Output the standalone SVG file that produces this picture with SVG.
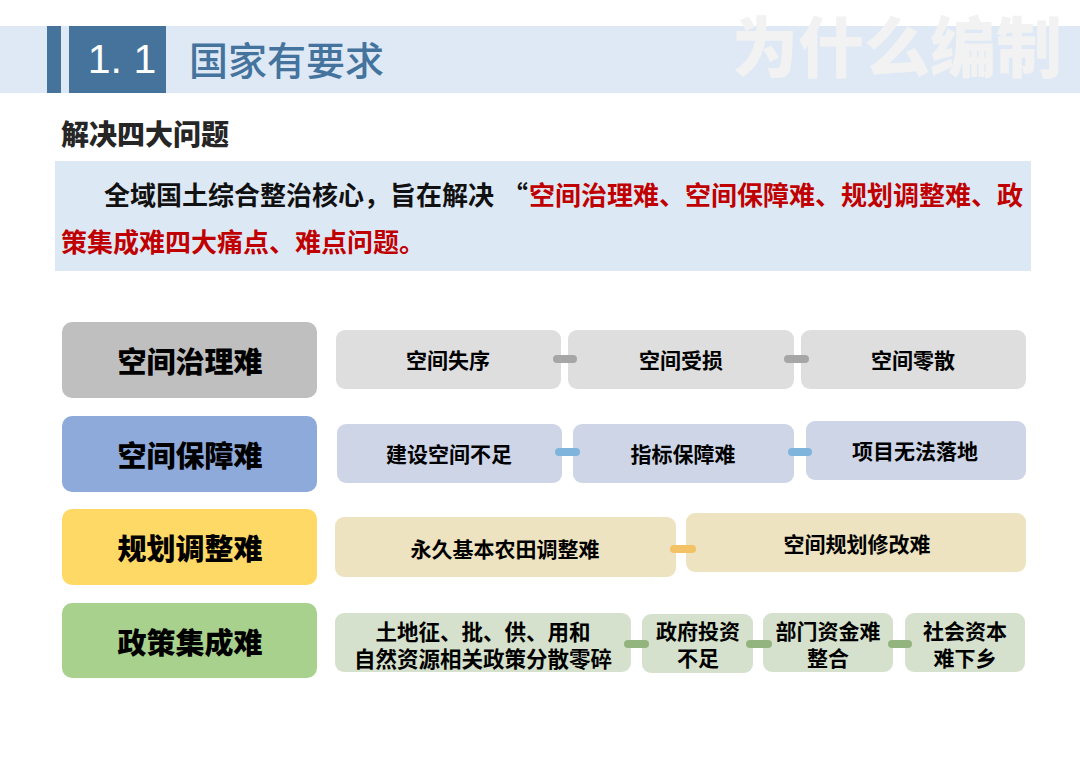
<svg xmlns="http://www.w3.org/2000/svg" width="1080" height="764" viewBox="0 0 1080 764">
<style>
text{font-family:"Noto Sans CJK SC","Liberation Sans",sans-serif;}
.b{font-weight:700;}
.cat{font-size:29px;font-weight:800;fill:#000;text-anchor:middle;dominant-baseline:central;}
.it{font-size:21px;font-weight:700;fill:#000;text-anchor:middle;dominant-baseline:central;}
.g1{fill:#dedede;}
.g2{fill:#cdd5e6;}
.g3{fill:#ede3c1;}
.g4{fill:#d5e1cc;}
.pill{stroke-width:8;stroke-linecap:round;fill:none;}
</style>
<rect width="1080" height="764" fill="#ffffff"/>
<g id="header">
<rect x="0" y="26" width="1080" height="67" fill="#dfe9f5"/>
<text x="897" y="43" font-size="66" font-weight="900" fill="#f2f2f2" text-anchor="middle" dominant-baseline="central">为什么编制</text>
<rect x="47" y="26" width="14" height="67" fill="#45739c"/>
<rect x="69" y="26" width="97" height="67" fill="#45739c"/>
<text x="122" y="73" font-size="41" fill="#ffffff" text-anchor="middle" style="font-family:'Liberation Sans',Arial,sans-serif">1. 1</text>
<text x="189" y="58" font-size="39" font-weight="500" fill="#44739e" dominant-baseline="central">国家有要求</text>
</g>
<g id="subtitle">
<text x="61" y="133" font-size="28" font-weight="800" fill="#262626" dominant-baseline="central">解决四大问题</text>
</g>
<g id="intro">
<rect x="55" y="161" width="976" height="110" fill="#dde8f5"/>
<text y="193" font-size="26" class="b" dominant-baseline="central"><tspan x="104" fill="#111111">全域国土综合整治核心，旨在解决</tspan><tspan x="502" fill="#111111">“</tspan><tspan x="529" fill="#c00000">空间治理难、空间保障难、规划调整难、政</tspan></text>
<text x="61" y="240" font-size="26" class="b" fill="#c00000" dominant-baseline="central">策集成难四大痛点、难点问题。</text>
</g>
<g id="cat1"><rect x="62" y="322" width="255" height="76" rx="10" fill="#bfbfbf"/><text class="cat" x="190" y="360">空间治理难</text></g>
<g id="cat2"><rect x="62" y="416" width="255" height="76" rx="10" fill="#8eaadb"/><text class="cat" x="190" y="454">空间保障难</text></g>
<g id="cat3"><rect x="62" y="509" width="255" height="76" rx="10" fill="#ffd966"/><text class="cat" x="190" y="547">规划调整难</text></g>
<g id="cat4"><rect x="62" y="603" width="255" height="75" rx="10" fill="#a9d18e"/><text class="cat" x="190" y="641">政策集成难</text></g>
<g id="r1a"><rect class="g1" x="336" y="330" width="225" height="59" rx="9"/><text class="it" x="448" y="359">空间失序</text></g>
<g id="r1b"><rect class="g1" x="568" y="330" width="226" height="59" rx="9"/><text class="it" x="681" y="359">空间受损</text></g>
<g id="r1c"><rect class="g1" x="801" y="330" width="225" height="59" rx="9"/><text class="it" x="913" y="359">空间零散</text></g>
<g id="r2a"><rect class="g2" x="337" y="424" width="225" height="59" rx="9"/><text class="it" x="449" y="453">建设空间不足</text></g>
<g id="r2b"><rect class="g2" x="573" y="424" width="221" height="59" rx="9"/><text class="it" x="683" y="453">指标保障难</text></g>
<g id="r2c"><rect class="g2" x="806" y="421" width="220" height="59" rx="9"/><text class="it" x="915" y="450">项目无法落地</text></g>
<g id="r3a"><rect class="g3" x="335" y="517" width="341" height="60" rx="9"/><text class="it" x="505" y="548">永久基本农田调整难</text></g>
<g id="r3b"><rect class="g3" x="686" y="513" width="340" height="59" rx="9"/><text class="it" x="857" y="543">空间规划修改难</text></g>
<g id="r4a"><rect class="g4" x="335" y="613" width="296" height="59" rx="9"/><text class="it" style="font-size:21.5px"><tspan x="483" y="630">土地征、批、供、用和</tspan><tspan x="483" y="657">自然资源相关政策分散零碎</tspan></text></g>
<g id="r4b"><rect class="g4" x="642" y="614" width="111" height="59" rx="9"/><text class="it"><tspan x="698" y="630">政府投资</tspan><tspan x="698" y="657">不足</tspan></text></g>
<g id="r4c"><rect class="g4" x="763" y="613" width="130" height="59" rx="9"/><text class="it"><tspan x="828" y="630">部门资金难</tspan><tspan x="828" y="657">整合</tspan></text></g>
<g id="r4d"><rect class="g4" x="905" y="613" width="120" height="59" rx="9"/><text class="it"><tspan x="965" y="630">社会资本</tspan><tspan x="965" y="657">难下乡</tspan></text></g>
<g id="connectors">
<line class="pill" x1="557" y1="359" x2="573" y2="359" stroke="#a6a6a6"/>
<line class="pill" x1="788" y1="359" x2="805" y2="359" stroke="#a6a6a6"/>
<line class="pill" x1="559" y1="452" x2="576" y2="452" stroke="#7fb4dd"/>
<line class="pill" x1="792" y1="452" x2="808" y2="452" stroke="#7fb4dd"/>
<line class="pill" x1="674" y1="549" x2="692" y2="549" stroke="#f2c265"/>
<line class="pill" x1="628" y1="644" x2="645" y2="644" stroke="#93b47f"/>
<line class="pill" x1="750" y1="644" x2="768" y2="644" stroke="#93b47f"/>
<line class="pill" x1="892" y1="644" x2="908" y2="644" stroke="#93b47f"/>
</g>
</svg>
